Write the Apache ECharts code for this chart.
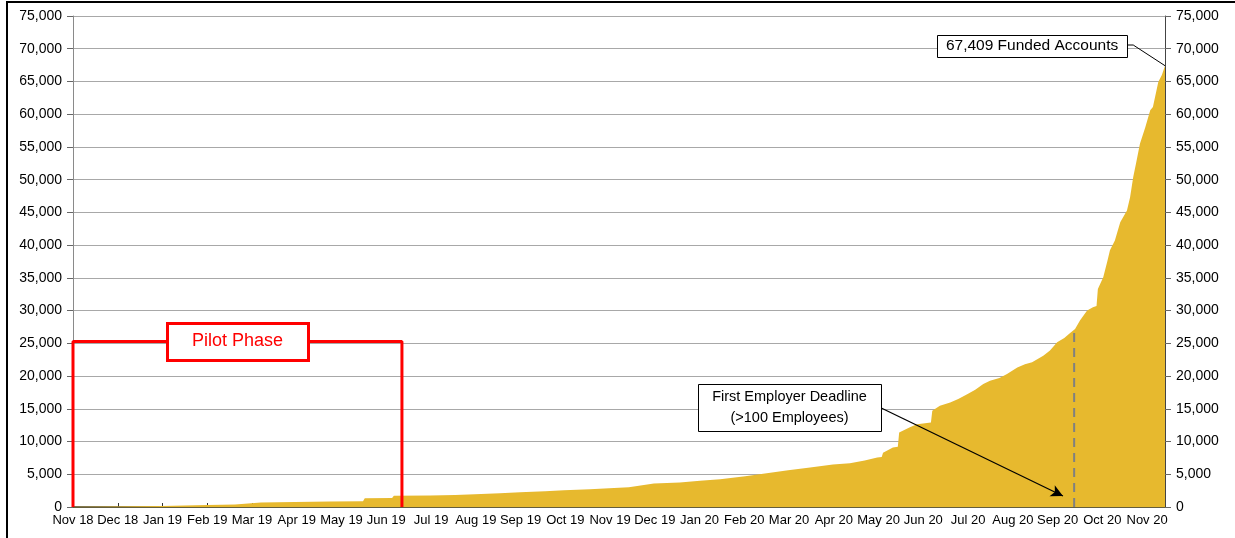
<!DOCTYPE html>
<html>
<head>
<meta charset="utf-8">
<script src="https://cdn.jsdelivr.net/npm/echarts@6/dist/echarts.min.js"></script>
<style>
html,body{margin:0;padding:0;background:#fff;}
#chart{width:1235px;height:538px;}
</style>
</head>
<body>
<div id="chart"></div>
<script>
// Month tick labels (one per month, Nov 2018 .. Nov 2020)
const monthLabels = ['Nov 18','Dec 18','Jan 19','Feb 19','Mar 19','Apr 19','May 19','Jun 19','Jul 19','Aug 19','Sep 19','Oct 19','Nov 19','Dec 19','Jan 20','Feb 20','Mar 20','Apr 20','May 20','Jun 20','Jul 20','Aug 20','Sep 20','Oct 20','Nov 20'];
// Position in months since start of Nov 2018
const monthPos = [0,0.58,1.05,1.5,2.0,2.5,3.0,3.33,3.62,3.66,4.2,4.96,5.74,6.48,6.52,7.13,7.17,7.98,8.54,8.98,9.54,9.99,10.55,10.97,11.55,11.98,12.42,12.45,12.98,13.56,14.01,14.46,15.02,15.46,15.98,16.47,16.98,17.36,17.69,17.97,18.07,18.1,18.32,18.43,18.46,18.7,18.86,19.17,19.2,19.37,19.6,19.78,19.98,20.16,20.34,20.49,20.7,20.87,21.1,21.27,21.43,21.68,21.83,21.99,22.15,22.28,22.39,22.5,22.66,22.79,22.87,22.9,23.02,23.11,23.17,23.28,23.4,23.55,23.62,23.69,23.75,23.84,23.96,24.07,24.13,24.25,24.33,24.4];
// Cumulative funded accounts
const funded = [0,30,60,100,150,230,300,350,380,650,700,760,830,860,1350,1390,1700,1750,1850,1950,2100,2250,2420,2550,2720,2860,3000,3300,3600,3750,4000,4250,4700,5100,5600,6050,6500,6700,7100,7550,7650,8300,9100,9200,11380,12200,12650,12900,14700,15460,15970,16500,17240,17900,18780,19290,19700,20300,21300,21800,22100,23100,23900,25150,25800,26580,27200,28500,30000,30500,30700,33300,35100,37500,39200,40700,43500,45300,47300,50400,52400,55500,58000,60600,61100,64900,66000,67409];
// Annotation anchors (months, accounts)
const axisMaxMonth = 24.4;
const pilotStart = 0, pilotEnd = 7.35, pilotLevel = 25280;
const deadlineMonth = 22.37, deadlineTop = 26580;
const finalLabel = '67,409 Funded Accounts';
const pilotLabel = 'Pilot Phase';
const deadlineLabel = 'First Employer Deadline\n(>100 Employees)';

const FONT = '"Liberation Sans", Arial, sans-serif';
const chart = echarts.init(document.getElementById('chart'));
const fmt = v => Number(v).toLocaleString('en-US');

const yBase = {
  type:'value', min:0, max:75000, interval:5000,
  axisLabel:{color:'#000', fontSize:14, fontFamily:FONT, margin:11, formatter:fmt},
  axisTick:{show:true, inside:false, length:6, lineStyle:{color:'#666'}},
};

chart.setOption({
  animation:false,
  backgroundColor:'#fff',
  textStyle:{fontFamily:FONT},
  grid:{left:73, right:70, top:16, bottom:31, containLabel:false},
  xAxis:{
    type:'value', min:0, max:axisMaxMonth, interval:1,
    axisLine:{show:true, lineStyle:{color:'#4e4418', width:1.5}},
    axisTick:{show:true, inside:true, length:4, lineStyle:{color:'#333'}},
    axisLabel:{color:'#000', fontSize:13, fontFamily:FONT, margin:7, showMaxLabel:false,
      formatter:v => Number.isInteger(v) ? (monthLabels[v]||'') : ''},
    splitLine:{show:false}
  },
  yAxis:[
    Object.assign({}, yBase, {position:'left',
      axisLine:{show:true, lineStyle:{color:'#8a8a8a'}},
      splitLine:{show:true, lineStyle:{color:'#a8a8a8', width:1}}}),
    Object.assign({}, yBase, {position:'right',
      axisLine:{show:true, lineStyle:{color:'#444'}},
      splitLine:{show:false}})
  ],
  series:[
    {
      type:'line', showSymbol:false, silent:true,
      data: monthPos.map((m,i)=>[m, funded[i]]),
      lineStyle:{width:0}, itemStyle:{color:'#E7B92E'},
      areaStyle:{color:'#E7B92E', opacity:1}, z:2,
      markLine:{
        silent:true, symbol:['none','arrow'], symbolSize:[9,12],
        label:{show:false},
        lineStyle:{color:'#000', width:1.3, type:'solid'},
        data:[[{coord:[18.06, 15120]},{coord:[22.12, 1680]}]]
      }
    },
    {
      type:'line', showSymbol:false, silent:true, z:3,
      data:[[pilotStart,0],[pilotStart,pilotLevel],[pilotEnd,pilotLevel],[pilotEnd,0]],
      lineStyle:{color:'#ff0000', width:3}
    },
    {
      type:'line', showSymbol:false, silent:true, z:3,
      data:[[deadlineMonth,0],[deadlineMonth,deadlineTop]],
      lineStyle:{color:'#808080', width:2, type:[9,6]}
    },
    {
      type:'line', showSymbol:false, silent:true, z:3,
      data:[[23.55,70570],[23.69,70570],[axisMaxMonth,67409]],
      lineStyle:{color:'#000', width:1}
    }
  ]
});

// Annotation boxes placed through the chart's own scales
function box(m, v, w, h, stroke, lw, text, color, size, lh){
  const p = chart.convertToPixel({gridIndex:0}, [m, v]);
  return {
    type:'group', z:50, silent:true,
    children:[
      {type:'rect', shape:{x:Math.round(p[0]-w/2)+0.5, y:Math.round(p[1]-h/2)+0.5, width:w, height:h},
       style:{fill:'#fff', stroke:stroke, lineWidth:lw}, z:50},
      {type:'text', x:p[0], y:p[1], z:51,
       style:{text:text, fill:color, font: size+'px '+FONT, align:'center', verticalAlign:'middle', lineHeight:lh||size*1.2}}
    ]
  };
}
chart.setOption({
  graphic:[
    box(3.676, pilotLevel, 141, 37, '#ff0000', 3, pilotLabel, '#ff0000', 18),
    box(16.01, 15200, 183, 47, '#000', 1, deadlineLabel, '#000', 14.5, 21),
    box(21.43, 70490, 190, 22, '#000', 1, finalLabel, '#000', 15.5),
    {type:'rect', z:100, silent:true, shape:{x:7, y:2, width:1240, height:545}, style:{fill:'none', stroke:'#000', lineWidth:2}}
  ]
});
</script>
</body>
</html>
